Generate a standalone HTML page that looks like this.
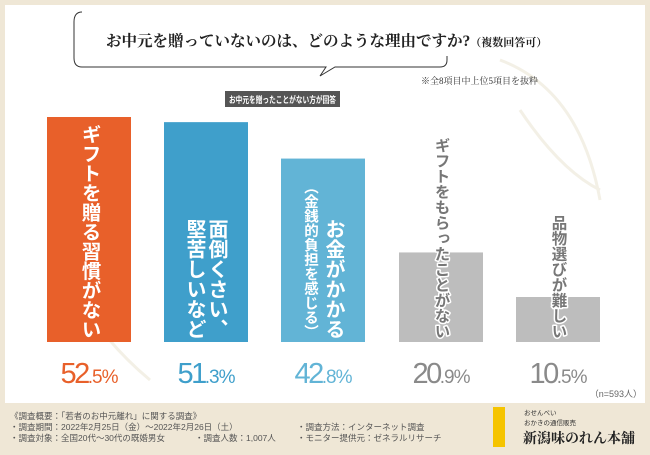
<!DOCTYPE html>
<html><head><meta charset="utf-8"><style>
body{margin:0;width:650px;height:450px;overflow:hidden;background:#efe7d6;font-family:"Liberation Sans","Noto Sans CJK JP",sans-serif}
</style></head><body>
<svg width="650" height="450" xmlns="http://www.w3.org/2000/svg" id="svg">
<rect x="0" y="0" width="650" height="450" fill="#efe7d6"/>
<rect x="5" y="5" width="640" height="398" fill="#ffffff"/>
<g fill="none" stroke="#f3f0e6" stroke-width="3">
<path d="M500 60 Q580 90 600 200"/><path d="M520 110 Q560 170 600 190"/><path d="M60 260 Q90 330 150 380"/>
</g>
<path d="M82 12 Q74 12 74 22 V58 Q74 67 82 67 H313 L326 67 L320 76 L335 67 H440 Q447 67 447 60 V56" fill="none" stroke="#333" stroke-width="1"/>
<text x="106" y="46" font-family="'Liberation Serif','Noto Serif CJK SC',serif" font-size="15.5" font-weight="bold" fill="#222">お中元を贈っていないのは、どのような理由ですか?<tspan font-size="11">（複数回答可）</tspan></text>
<text x="538" y="84" text-anchor="end" font-family="'Liberation Serif','Noto Serif CJK SC',serif" font-size="9" fill="#333">※全8項目中上位5項目を抜粋</text>
<rect x="225" y="91" width="115" height="16" fill="#555"/>
<text x="229" y="103" textLength="107" lengthAdjust="spacingAndGlyphs" font-size="9" font-weight="bold" fill="#fff">お中元を贈ったことがない方が回答</text>
<g id="bars"></g>
<text x="642" y="397" text-anchor="end" font-size="9" fill="#666">（n=593人）</text>
<g font-size="8.5" fill="#555">
<text x="10" y="419">《調査概要：「若者のお中元離れ」に関する調査》</text>
<text x="10" y="430">・調査期間：2022年2月25日（金）～2022年2月26日（土）</text>
<text x="10" y="441">・調査対象：全国20代～30代の既婚男女</text>
<text x="195" y="441">・調査人数：1,007人</text>
<text x="297" y="430">・調査方法：インターネット調査</text>
<text x="297" y="441">・モニター提供元：ゼネラルリサーチ</text>
</g>
<rect x="493" y="407" width="12" height="40" fill="#f5c400"/>
<text x="524" y="415" font-size="6.5" fill="#333">おせんべい</text>
<text x="524" y="425" font-size="6.5" fill="#333">おかきの通信販売</text>
<text x="523" y="443" font-family="'Liberation Serif','Noto Serif CJK SC',serif" font-size="14" font-weight="bold" fill="#222">新潟味のれん本舗</text>
</svg>
<script>
const categories=["ギフトを贈る習慣がない","面倒くさい、堅苦しいなど","お金がかかる（金銭的負担を感じる）","ギフトをもらったことがない","品物選びが難しい"];
const values=[52.5,51.3,42.8,20.9,10.5];
const NS="http://www.w3.org/2000/svg";
const g=document.getElementById('bars');
const base=342, scale=225/52.5;
const yOf=v=>base-v*scale;
const xs=[47,164,281,399,516], bw=84;
const colors=["#e8602a","#3f9fcb","#62b4d6","#bdbdbd","#bdbdbd"];
const pctColors=["#e8602a","#3f9fcb","#62b4d6","#8a8a8a","#8a8a8a"];
const cols=[[{t:"ギフトを贈る習慣がない",x:89,fs:19.5}],[{t:"面倒くさい、",x:216,fs:20}],[{t:"お金がかかる",x:333,fs:20},{t:"（金銭的負担を感じる）",x:310,fs:14.5}],[{t:"ギフトをもらったことがない",x:441,fs:15.5}],[{t:"品物選びが難しい",x:558,fs:15.5}]];
cols[1].push({t:"堅苦しいなど",x:194,fs:20});
function vtext(s,x,fs,fill,stroke,sw){
  const t=document.createElementNS(NS,'text');
  
  
  t.setAttribute('x',x);t.setAttribute('y',base-3);
  t.setAttribute('writing-mode','tb');t.setAttribute('text-anchor','end');
  t.setAttribute('font-size',fs);t.setAttribute('font-weight','bold');
  t.setAttribute('fill',fill);t.setAttribute('stroke',stroke);t.setAttribute('stroke-width',sw);
  t.setAttribute('paint-order','stroke');t.setAttribute('stroke-linejoin','round');
  t.textContent=s;g.appendChild(t);
}
values.forEach((v,i)=>{
  const r=document.createElementNS(NS,'rect');
  
  
  r.setAttribute('x',xs[i]);r.setAttribute('y',yOf(v));r.setAttribute('width',bw);r.setAttribute('height',base-yOf(v));
  r.setAttribute('fill',colors[i]);g.appendChild(r);
  cols[i].forEach(c=>{
    if(i<3) vtext(c.t,c.x,c.fs,'#fff',colors[i],3);
    else vtext(c.t,c.x,c.fs,'#777','#fff',3);
  });
  const p=document.createElementNS(NS,'text');
  
  
  p.setAttribute('x',xs[i]+bw/2);p.setAttribute('y',383);p.setAttribute('text-anchor','middle');
  p.setAttribute('fill',pctColors[i]);
  const s=v.toFixed(1).split('.');
  p.innerHTML='<tspan font-size="29" letter-spacing="-2.5">'+s[0]+'</tspan><tspan font-size="19" letter-spacing="-1">.'+s[1]+'%</tspan>';
  g.appendChild(p);
});
</script>
</body></html>
